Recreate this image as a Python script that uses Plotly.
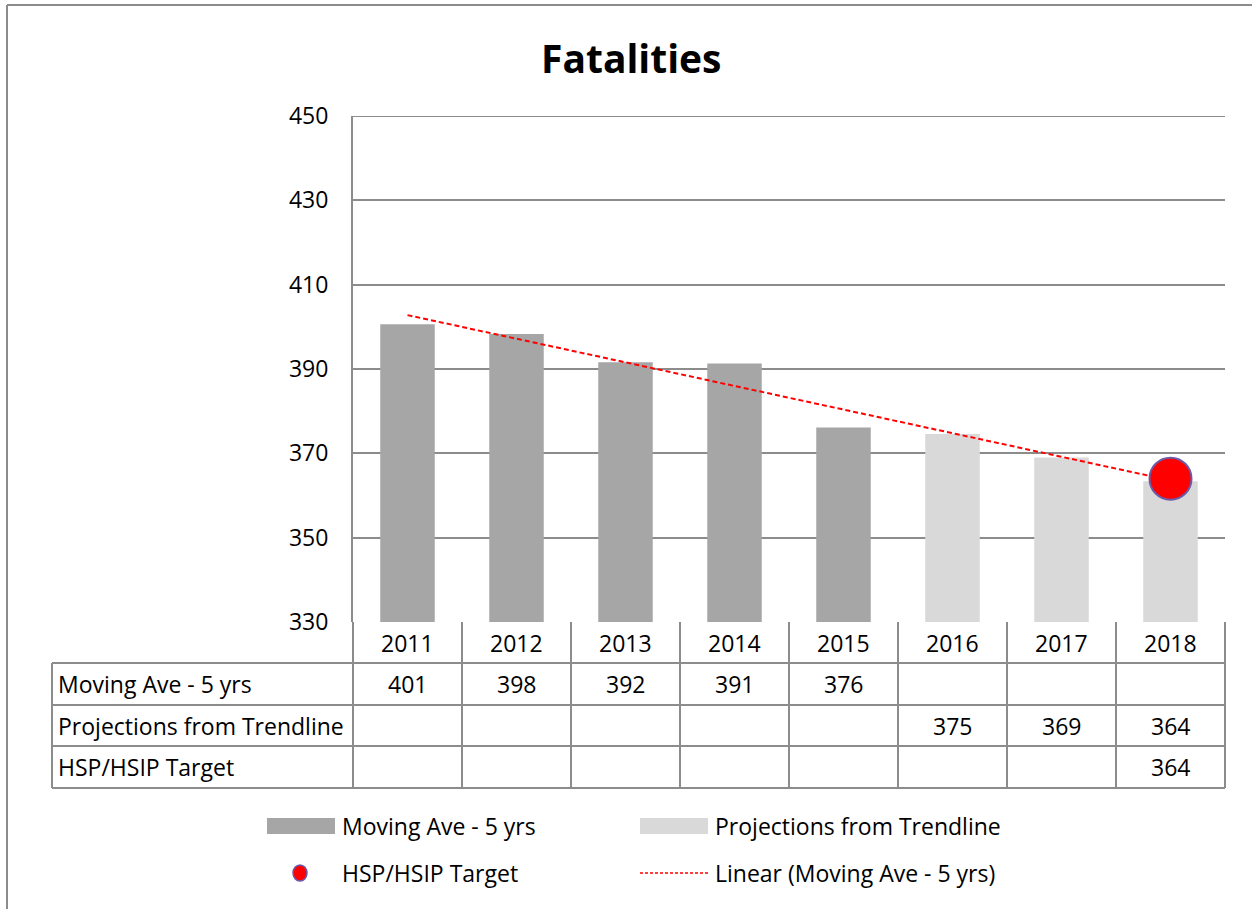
import plotly.graph_objects as go
import numpy as np

years = ["2011", "2012", "2013", "2014", "2015", "2016", "2017", "2018"]
moving_ave = [400.6, 398.3, 391.6, 391.3, 376.1, None, None, None]
projections = [None, None, None, None, None, 374.6, 369.0, 363.4]
target = [None, None, None, None, None, None, None, 364.0]
table_moving = ["401", "398", "392", "391", "376", "", "", ""]
table_proj = ["", "", "", "", "", "375", "369", "364"]
table_target = ["", "", "", "", "", "", "", "364"]
row_labels = ["Moving Ave - 5 yrs", "Projections from Trendline", "HSP/HSIP Target"]
yticks = [330, 350, 370, 390, 410, 430, 450]

FONT = "Open Sans"
GRID = "#8c8c8c"
W, H = 1252, 909
PX0, PX1, PY0, PY1 = 353, 1225, 116, 622

def pxx(X):
    return (X - PX0) / (PX1 - PX0)

def pxy(Y):
    return (PY1 - Y) / (PY1 - PY0)

xi = list(range(len(years)))

# linear trendline from the moving-average series, extended forward
known = [(i, v) for i, v in zip(xi, moving_ave) if v is not None]
kx = np.array([k[0] for k in known], float)
ky = np.array([k[1] for k in known], float)
slope, icpt = np.polyfit(kx, ky, 1)
trend_x = np.array(xi, float)
trend_y = slope * trend_x + icpt

fig = go.Figure()
fig.add_trace(go.Bar(x=xi, y=moving_ave, marker=dict(color="#a6a6a6", line=dict(width=0)),
                     width=0.5, name="Moving Ave - 5 yrs"))
fig.add_trace(go.Bar(x=xi, y=projections, marker=dict(color="#d9d9d9", line=dict(width=0)),
                     width=0.5, name="Projections from Trendline"))
fig.add_trace(go.Scatter(x=trend_x, y=trend_y, mode="lines",
                         line=dict(color="#ff0000", width=2, dash="5px,3px"),
                         name="Linear (Moving Ave - 5 yrs)"))
fig.add_trace(go.Scatter(x=xi, y=target, mode="markers",
                         marker=dict(size=42, color="#ff0000", line=dict(color="#6a5aa8", width=2)),
                         name="HSP/HSIP Target"))

shapes = []
line = dict(color=GRID, width=2)
# outer frame (left and top visible)
shapes.append(dict(type="line", xref="paper", yref="paper", x0=pxx(7), x1=pxx(W + 5),
                   y0=pxy(5), y1=pxy(5), line=line))
shapes.append(dict(type="line", xref="paper", yref="paper", x0=pxx(7), x1=pxx(7),
                   y0=pxy(5), y1=pxy(H + 5), line=line))
# top gridline at the axis maximum
shapes.append(dict(type="line", xref="paper", yref="y", x0=0, x1=1,
                   y0=yticks[-1], y1=yticks[-1], line=line, layer="below"))
# table
n = len(years)
for k in range(n + 1):
    shapes.append(dict(type="line", xref="paper", yref="paper", x0=k / n, x1=k / n,
                       y0=pxy(622), y1=pxy(788), line=line))
for Y in [663, 705, 746, 788]:
    shapes.append(dict(type="line", xref="paper", yref="paper", x0=pxx(52), x1=1,
                       y0=pxy(Y), y1=pxy(Y), line=line))
shapes.append(dict(type="line", xref="paper", yref="paper", x0=pxx(52), x1=pxx(52),
                   y0=pxy(663), y1=pxy(788), line=line))

# custom legend
shapes.append(dict(type="rect", xref="paper", yref="paper", x0=pxx(267), x1=pxx(335),
                   y0=pxy(818), y1=pxy(834), fillcolor="#a6a6a6", line=dict(width=0)))
shapes.append(dict(type="rect", xref="paper", yref="paper", x0=pxx(640), x1=pxx(708),
                   y0=pxy(818), y1=pxy(834), fillcolor="#d9d9d9", line=dict(width=0)))
shapes.append(dict(type="circle", xref="paper", yref="paper", x0=pxx(293), x1=pxx(307),
                   y0=pxy(865), y1=pxy(881), fillcolor="#ff0000", line=dict(color="#6a5aa8", width=1.5)))
shapes.append(dict(type="line", xref="paper", yref="paper", x0=pxx(640), x1=pxx(708),
                   y0=pxy(873), y1=pxy(873), line=dict(color="#ff0000", width=1.5, dash="3px,2px")))

annotations = []
TF = dict(family=FONT, size=23, color="#000000")
ycent = [643, 684, 726, 767]
for i, yr in enumerate(years):
    cx = (i + 0.5) / n
    annotations.append(dict(x=cx, y=pxy(643), xref="paper", yref="paper", text=yr,
                            showarrow=False, font=TF, xanchor="center", yanchor="middle"))
    for r, vals in enumerate([table_moving, table_proj, table_target]):
        if vals[i]:
            annotations.append(dict(x=cx, y=pxy(ycent[r + 1]), xref="paper", yref="paper",
                                    text=vals[i], showarrow=False, font=TF,
                                    xanchor="center", yanchor="middle"))
for r, lab in enumerate(row_labels):
    annotations.append(dict(x=pxx(56), y=pxy(ycent[r + 1]), xref="paper", yref="paper",
                            text=lab, showarrow=False, font=TF, xanchor="left", yanchor="middle"))
leg = [(340, 826, "Moving Ave - 5 yrs"), (713, 826, "Projections from Trendline"),
       (340, 873, "HSP/HSIP Target"), (713, 873, "Linear (Moving Ave - 5 yrs)")]
for X, Y, t in leg:
    annotations.append(dict(x=pxx(X), y=pxy(Y), xref="paper", yref="paper", text=t,
                            showarrow=False, font=TF, xanchor="left", yanchor="middle"))
annotations.append(dict(x=pxx(631), y=pxy(57), xref="paper", yref="paper", text="<b>Fatalities</b>",
                        showarrow=False, font=dict(family=FONT, size=39, color="#000000"),
                        xanchor="center", yanchor="middle"))

fig.update_layout(
    width=W, height=H,
    margin=dict(l=PX0, r=W - PX1, t=PY0, b=H - PY1, pad=0),
    paper_bgcolor="white", plot_bgcolor="white",
    showlegend=False, barmode="overlay",
    shapes=shapes, annotations=annotations,
    font=dict(family=FONT, color="#000000"),
)
fig.update_xaxes(range=[-0.5, n - 0.5], showticklabels=False, showgrid=False, zeroline=False,
                 showline=False, fixedrange=True)
fig.update_yaxes(range=[330, 450], tickvals=yticks, showgrid=True, gridcolor=GRID, gridwidth=2,
                 zeroline=False, showline=True, linecolor=GRID, linewidth=2,
                 tickfont=dict(family=FONT, size=23, color="#000000"), ticks="",
                 ticklabelstandoff=18, fixedrange=True)

fig.write_html("out.html", config={"displayModeBar": False},
               post_script="document.body.style.margin='0';document.body.style.padding='0';")
